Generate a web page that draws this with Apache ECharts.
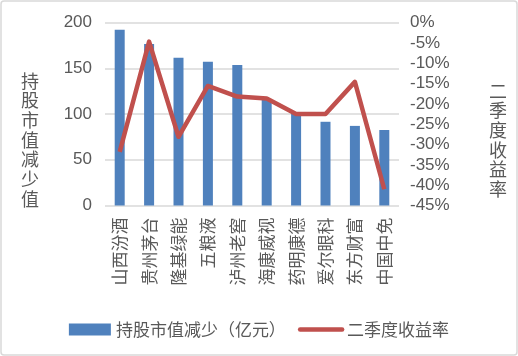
<!DOCTYPE html>
<html><head><meta charset="utf-8">
<script src="https://cdn.jsdelivr.net/npm/echarts@6/dist/echarts.min.js"></script>
<style>html,body{margin:0;padding:0;background:#fff}#c{width:518px;height:356px}</style>
</head><body><div id="c"></div>
<script>
var categories = ['山西汾酒','贵州茅台','隆基绿能','五粮液','泸州老窖','海康威视','药明康德','爱尔眼科','东方财富','中国中免'];
var marketValueDrop = [192, 176.5, 161.5, 157, 153.5, 116, 100.5, 91.5, 87, 82.5];
var q2Return = [-31.8, -4.7, -28.1, -15.6, -18.2, -18.7, -22.5, -22.5, -14.6, -41.0];
var leftTicks = {min: 0, max: 200, interval: 50};
var rightTicks = {min: -45, max: 0, interval: 5};
var barName = '持股市值减少（亿元）';
var lineName = '二季度收益率';
var leftAxisName = '持股市值减少值';
var rightAxisName = '二季度收益率';

var txt = '#595959';
var cjk = '"Noto Sans CJK SC", sans-serif';
var num = '"Liberation Sans", Arial, sans-serif';
var chart = echarts.init(document.getElementById('c'), null, {renderer: 'canvas'});
chart.setOption({
  animation: false,
  backgroundColor: '#fff',
  grid: {left: 105, right: 119, top: 22.5, bottom: 150.5, containLabel: false},
  legend: {
    left: 'center', top: 316,
    itemWidth: 42, itemHeight: 12, itemGap: 12,
    textStyle: {color: txt, fontSize: 17, fontFamily: cjk},
    data: [
      {name: barName, icon: 'rect'},
      {name: lineName, itemStyle: {opacity: 0}, lineStyle: {width: 4.5, color: '#c0504d', cap: 'round'}}
    ]
  },
  graphic: [
    {type: 'rect', shape: {x: 1, y: 1, width: 516, height: 354, r: 3}, style: {fill: 'none', stroke: '#d9d9d9', lineWidth: 1.5}, silent: true},
    {type: 'text', left: 21, top: 71, style: {text: leftAxisName.split('').join('\n'), fill: txt, font: '18px ' + cjk, lineHeight: 19.7}},
    {type: 'text', left: 489, top: 81, style: {text: rightAxisName.split('').join('\n'), fill: txt, font: '18px ' + cjk, lineHeight: 19.7}}
  ],
  xAxis: {
    type: 'category', data: categories,
    axisLine: {show: false}, axisTick: {show: false},
    axisLabel: {rotate: 90, margin: 12, color: txt, fontSize: 17, fontFamily: cjk, interval: 0}
  },
  yAxis: [
    {type: 'value', min: leftTicks.min, max: leftTicks.max, interval: leftTicks.interval,
     axisLine: {show: false}, axisTick: {show: false},
     splitLine: {lineStyle: {color: '#d9d9d9', width: 1.5}},
     axisLabel: {margin: 13, color: txt, fontSize: 17, fontFamily: num}},
    {type: 'value', min: rightTicks.min, max: rightTicks.max, interval: rightTicks.interval,
     axisLine: {show: false}, axisTick: {show: false}, splitLine: {show: false},
     axisLabel: {margin: 11, color: txt, fontSize: 17, fontFamily: num, formatter: function(v){return v + '%';}}}
  ],
  series: [
    {name: barName, type: 'bar', data: marketValueDrop, barWidth: 10, itemStyle: {color: '#4f81bd'}},
    {name: lineName, type: 'line', yAxisIndex: 1, data: q2Return, symbol: 'none',
     lineStyle: {color: '#c0504d', width: 4.5, join: 'round'}, itemStyle: {color: '#c0504d'}}
  ]
});
</script></body></html>
